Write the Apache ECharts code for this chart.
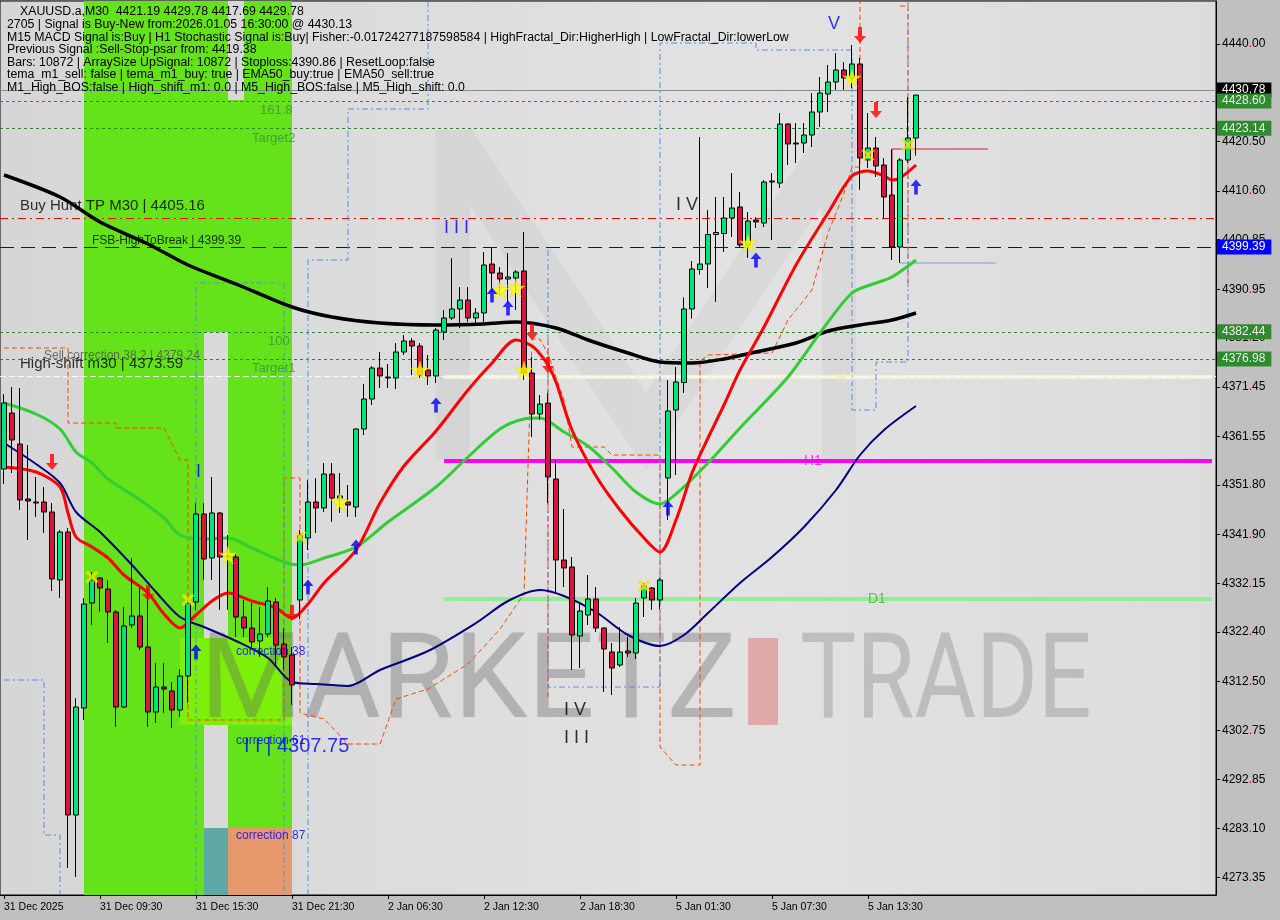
<!DOCTYPE html>
<html><head><meta charset="utf-8">
<script src="https://cdn.jsdelivr.net/npm/echarts@6/dist/echarts.min.js"></script>
<style>html,body{margin:0;padding:0;background:#c0c0c0;}#c{width:1280px;height:920px;}</style>
</head><body><div id="c"></div>
<script>
// ---------- DATA ----------
const tickLabels = ['31 Dec 2025','31 Dec 09:30','31 Dec 15:30','31 Dec 21:30','2 Jan 06:30','2 Jan 12:30','2 Jan 18:30','5 Jan 01:30','5 Jan 07:30','5 Jan 13:30'];
const yTicks = [4440.00,4430.25,4420.50,4410.60,4400.85,4390.95,4381.20,4371.45,4361.55,4351.80,4341.90,4332.15,4322.40,4312.50,4302.75,4292.85,4283.10,4273.35];
// [open, high, low, close]
const ohlc = [
[4355.0,4370.0,4352.0,4368.2],[4366.2,4371.4,4354.2,4360.8],[4360.0,4371.2,4346.8,4348.8],[4349.0,4359.8,4340.8,4348.6],
[4348.4,4353.4,4345.4,4348.2],[4348.4,4351.4,4342.2,4346.4],[4346.4,4348.2,4330.6,4333.0],[4332.8,4342.8,4329.2,4342.4],
[4342.4,4343.2,4275.2,4285.8],[4285.8,4309.2,4273.4,4307.4],[4307.2,4329.2,4304.8,4328.0],[4328.2,4334.4,4323.8,4332.8],
[4333.2,4333.4,4326.4,4331.2],[4331.0,4332.8,4320.2,4326.4],[4326.4,4326.8,4303.4,4307.4],[4307.4,4327.4,4307.2,4323.6],
[4323.8,4337.2,4323.2,4325.6],[4325.6,4331.2,4318.8,4319.4],[4319.4,4331.2,4303.4,4306.4],[4306.4,4316.2,4304.2,4311.4],
[4311.4,4316.2,4306.2,4311.0],[4310.6,4312.4,4303.2,4306.8],[4306.8,4315.0,4305.4,4313.6],[4313.6,4329.2,4308.2,4328.2],
[4328.4,4348.2,4326.8,4346.0],[4346.0,4348.2,4332.8,4337.0],[4337.2,4353.4,4332.8,4346.2],[4346.2,4346.4,4326.8,4337.4],
[4337.4,4341.8,4326.8,4337.6],[4337.4,4338.2,4321.4,4325.4],[4325.4,4328.8,4321.4,4323.2],[4323.2,4328.2,4319.4,4320.4],
[4320.6,4327.4,4317.4,4322.0],[4322.0,4331.4,4321.4,4328.6],[4328.4,4329.2,4315.4,4319.8],[4320.0,4323.2,4314.8,4317.4],
[4317.8,4319.4,4307.8,4311.8],[4328.8,4342.8,4325.0,4341.8],[4341.2,4352.8,4338.8,4348.4],[4348.4,4353.2,4342.2,4347.2],
[4347.2,4356.2,4346.4,4354.0],[4354.0,4356.2,4344.4,4349.2],[4349.2,4354.2,4346.2,4349.6],[4348.4,4351.8,4345.4,4347.8],
[4347.4,4363.2,4345.4,4363.0],[4363.0,4372.0,4361.8,4369.0],[4369.0,4375.6,4367.8,4375.2],[4375.2,4378.4,4371.2,4373.6],
[4373.4,4376.0,4371.2,4373.2],[4373.2,4380.2,4371.0,4378.4],[4378.4,4381.8,4377.8,4380.6],[4380.6,4381.2,4373.8,4379.6],
[4379.6,4380.2,4373.2,4373.8],[4374.8,4377.8,4371.8,4373.6],[4373.6,4383.2,4372.2,4382.8],[4382.4,4386.8,4380.8,4385.2],
[4385.2,4397.2,4384.8,4387.0],[4387.0,4391.4,4383.2,4388.8],[4388.8,4391.4,4384.4,4385.2],[4385.2,4387.2,4383.8,4386.2],
[4386.2,4398.4,4384.4,4395.8],[4396.0,4399.2,4390.4,4394.2],[4394.2,4395.4,4389.8,4393.0],[4393.0,4398.2,4388.2,4393.4],
[4393.2,4394.8,4386.8,4394.4],[4394.6,4402.4,4372.8,4374.2],[4374.2,4377.4,4361.4,4366.0],[4366.0,4369.8,4364.8,4368.0],
[4368.2,4370.2,4348.2,4353.4],[4353.0,4356.8,4330.2,4336.8],[4336.8,4347.0,4331.4,4335.2],[4335.4,4337.4,4314.8,4321.8],
[4321.6,4328.4,4315.2,4326.6],[4325.8,4333.8,4323.8,4329.0],[4329.0,4331.4,4322.4,4323.2],[4323.2,4323.4,4310.4,4319.0],
[4318.4,4320.2,4309.8,4315.2],[4315.8,4323.4,4315.4,4318.4],[4318.6,4321.4,4317.4,4318.2],[4318.2,4329.2,4317.0,4328.2],
[4329.2,4332.2,4325.4,4331.6],[4331.2,4331.4,4326.8,4328.8],[4328.8,4333.2,4327.0,4332.8],[4353.2,4372.8,4344.8,4366.6],
[4366.8,4375.4,4353.8,4372.4],[4372.3,4389.3,4370.2,4387.0],[4387.0,4396.6,4385.1,4395.0],[4394.9,4421.4,4393.9,4396.0],
[4396.0,4406.8,4391.2,4401.9],[4401.9,4409.4,4388.4,4402.3],[4402.1,4409.4,4398.4,4405.2],[4405.2,4414.2,4401.4,4407.2],
[4407.4,4410.4,4399.2,4399.8],[4399.8,4406.4,4397.2,4404.6],[4404.8,4405.4,4403.2,4404.4],[4404.2,4412.8,4403.4,4412.4],
[4412.4,4414.2,4400.8,4412.6],[4412.2,4426.2,4411.2,4424.0],[4424.0,4424.2,4415.8,4420.0],[4420.2,4424.2,4416.2,4420.0],
[4420.2,4424.2,4418.2,4421.8],[4421.8,4430.2,4419.4,4426.4],[4426.4,4433.4,4423.4,4430.2],[4430.0,4435.8,4426.4,4432.4],
[4432.4,4438.2,4430.8,4434.8],[4434.8,4436.4,4430.8,4433.2],[4433.2,4439.8,4431.2,4436.0],[4436.0,4437.2,4410.8,4417.2],
[4416.8,4426.2,4415.2,4419.2],[4419.2,4421.4,4413.4,4415.6],[4415.8,4417.2,4405.2,4409.4],[4409.8,4419.0,4396.8,4399.4],
[4399.4,4417.2,4396.2,4416.8],[4416.8,4429.4,4416.2,4421.2],[4421.19,4429.78,4417.69,4429.78]
];
// moving averages read at sampled bars: [barIndex, value]
const maBlack = [[0,4413.8],[7,4409.4],[12,4404.4],[18,4400.0],[23,4395.8],[29,4392.0],[36,4387.4],[41,4385.4],[47,4384.2],[54,4383.8],[60,4384.0],[64,4384.4],[69,4383.2],[73,4380.8],[78,4378.2],[82,4376.4],[86,4376.2],[90,4377.0],[94,4378.4],[99,4380.2],[103,4382.6],[107,4383.8],[111,4384.8],[114,4386.2]];
const maRed = [[0,4355.4],[4,4354.4],[7,4351.4],[8,4346.2],[9,4341.4],[11,4339.4],[13,4337.2],[15,4333.8],[18,4330.2],[20,4326.0],[22,4323.2],[24,4325.8],[26,4328.6],[28,4330.2],[31,4328.6],[34,4327.2],[36,4325.2],[38,4328.0],[40,4332.2],[44,4338.8],[47,4348.2],[50,4355.6],[54,4362.6],[58,4370.8],[61,4376.2],[64,4380.8],[66,4379.6],[67,4378.0],[68,4375.8],[69,4372.4],[71,4362.8],[74,4353.6],[77,4346.8],[80,4341.2],[82,4338.4],[84,4344.8],[86,4354.2],[88,4361.2],[90,4367.8],[92,4374.8],[95,4383.4],[99,4395.8],[103,4406.2],[106,4413.6],[108,4414.6],[110,4413.6],[111,4412.8],[112,4413.2],[114,4415.8]];
const maGreen = [[0,4368.2],[4,4366.0],[7,4363.0],[9,4358.4],[11,4356.2],[13,4353.0],[17,4348.8],[20,4345.2],[22,4341.8],[25,4341.0],[28,4341.2],[31,4339.2],[35,4336.4],[37,4335.8],[40,4337.2],[44,4339.4],[48,4344.4],[54,4351.4],[58,4357.4],[62,4363.0],[65,4365.0],[67,4365.2],[70,4362.4],[73,4359.6],[76,4355.2],[79,4350.4],[82,4348.0],[84,4350.0],[88,4356.2],[92,4363.2],[98,4373.4],[102,4382.2],[106,4390.2],[109,4392.2],[111,4393.4],[114,4396.8]];
const maNavy = [[0,4360.2],[4,4356.0],[7,4352.2],[9,4346.4],[12,4342.4],[16,4335.8],[19,4330.4],[22,4325.4],[25,4323.4],[29,4320.6],[33,4317.2],[36,4312.4],[39,4312.0],[43,4311.6],[47,4314.8],[53,4318.6],[59,4324.2],[63,4328.6],[67,4330.8],[70,4329.6],[74,4326.4],[78,4321.8],[82,4319.6],[85,4321.8],[88,4326.2],[92,4332.2],[96,4337.4],[100,4343.4],[104,4350.8],[107,4357.8],[110,4362.8],[114,4367.6]];
// stepped indicator envelopes
const orangePath1 = [[0,4379.2],[8,4379.2],[8,4364.2],[14,4364.2],[14,4363.2],[20,4363.2],[22,4356.8],[23,4356.8],[23,4304.8],[35,4304.8],[35,4353.2],[37,4353.2],[37,4306.2],[40,4305.0],[43,4300.0],[47,4300.0],[49,4309.0],[53,4311.0],[58,4316.0],[62,4323.0],[65,4330.0],[66,4381.0],[67,4381.0],[68,4378.0],[70,4368.8],[71,4359.4],[75,4359.4],[76,4357.8],[82,4357.8],[82,4299.4],[84,4295.8],[87,4295.8],[87,4376.6],[88,4377.8],[96,4378.2],[98,4384.8],[101,4390.8],[103,4402.2],[105,4410.2],[106,4415.4],[107,4415.4],[107,4448.6]];
const orangePath2 = [[112,4447.6],[113,4447.6],[113,4391.4]];
const orangePath3 = [[68,4380.8],[68,4308.8]];
const bluePath1 = [[0,4312.8],[5,4312.8],[5,4281.8],[7,4281.8],[7,4269.8]];
const bluePath2 = [[24,4269.8],[24,4392.2],[35,4392.2],[35,4269.8]];
const bluePath3 = [[38,4269.8],[38,4396.8],[43,4396.8],[43,4427.0],[53,4427.0],[53,4448.6]];
const bluePath4 = [[68,4398.8],[68,4311.4],[82,4311.4],[82,4440.2],[94,4440.2],[94,4438.8],[106,4438.8],[106,4366.8],[109,4366.8],[109,4376.4],[113,4376.4],[113,4448.6]];
const redShort = [[123,4419.0],[111,4419.0],[111,4399.4]];
const blueShort = [[112,4396.2],[124,4396.2]];
// levels
const levelH1 = 4356.6, levelD1 = 4329.0, levelH4 = 4373.4;
const priceNow = 4430.78, greenLevels = [4428.60, 4423.14, 4382.44, 4376.98];
const buyHuntTP = 4405.16, fsbHigh = 4399.39, highShift = 4373.59;
// markers [barIndex, price]
const stars = [[28,4337.8],[42,4348.4],[52,4374.8],[62,4390.8],[64,4391.2],[65,4374.8],[93,4400.2],[106,4433.2]];
const crosses = [[11,4333.4],[23,4328.8],[37,4341.4],[80,4331.6],[108,4417.8],[113,4419.8]];
const downArrows = [[6,4356.4],[18,4330.2],[36,4326.2],[66,4382.4],[68,4375.8],[107,4441.8],[109,4426.8]];
const upArrows = [[24,4318.4],[38,4331.4],[44,4339.4],[54,4367.8],[61,4389.8],[63,4387.2],[83,4347.2],[94,4396.8],[114,4411.4]];
// text annotations [text, barIndex, price, style]
const notes = [
 ['Buy Hunt TP M30 | 4405.16',2,4407.6,'big'],
 ['FSB-HighToBreak | 4399.39',11,4400.6,'small'],
 ['Sell correction 38.2 | 4379.24',5,4377.6,'grey'],
 ['High-shift m30 | 4373.59',2,4376.0,'big'],
 ['161.8',32,4426.8,'fib'],['Target2',31,4421.2,'fib'],['100',33,4380.6,'fib'],['Target1',31,4375.2,'fib'],
 ['I I I',55,4403.2,'wb'],['I V',84,4407.8,'wk'],['V',103,4444.0,'wb'],['I V',70,4306.8,'wk'],['I I I',70,4301.2,'wk'],
 ['I',24,4354.4,'wb'],['I I | 4307.75',30,4299.6,'wb2'],
 ['correction 38',29,4318.4,'corr'],['correction 61',29,4300.6,'corr'],['correction 87',29,4281.6,'corr'],
 ['H1',100,4356.6,'h1'],['D1',108,4329.0,'d1'],['H4',104,4373.2,'h4']
];
const infoLines = [
 'XAUUSD.a,M30  4421.19 4429.78 4417.69 4429.78',
 '2705 | Signal is Buy-New from:2026.01.05 16:30:00 @ 4430.13',
 'M15 MACD Signal is:Buy | H1 Stochastic Signal is:Buy| Fisher:-0.01724277187598584 | HighFractal_Dir:HigherHigh | LowFractal_Dir:lowerLow',
 'Previous Signal :Sell-Stop-psar from: 4419.38',
 'Bars: 10872 | ArraySize UpSignal: 10872 | Stoploss:4390.86 | ResetLoop:false',
 'tema_m1_sell: false | tema_m1_buy: true | EMA50_buy:true | EMA50_sell:true',
 'M1_High_BOS:false | High_shift_m1: 0.0 | M5_High_BOS:false | M5_High_shift: 0.0'
];

// ---------- CHART ----------
const NCAT = 152, YMIN = 4269.8, YMAX = 4448.6;
const cats = Array.from({length: NCAT}, (_, i) => String(i));
const FONT = 'Liberation Sans, Arial, sans-serif';
const chart = echarts.init(document.getElementById('c'), null, {renderer: 'canvas'});

const noteStyles = {
  big: {color:'#000', fontSize:15}, small: {color:'#000', fontSize:12}, grey: {color:'#505050', fontSize:12},
  fib: {color:'#3c8f3c', fontSize:13}, wb: {color:'#0000ff', fontSize:18}, wk: {color:'#000', fontSize:18},
  wb2: {color:'#0000ff', fontSize:20}, corr: {color:'#0000ff', fontSize:12},
  h1: {color:'#ff00ff', fontSize:14}, d1: {color:'#3cb043', fontSize:14}, h4: {color:'#efefb0', fontSize:14}
};

const ticksShown = idx => idx % 12 === 0 && idx / 12 < tickLabels.length;

function pathSeries(data, color, type, width) {
  return {type:'line', data, showSymbol:false, silent:true, z:6, animation:false,
    lineStyle:{color, width: width || 1, type}};
}
function boxLabel(text, bg, fg) {
  return {show:true, position:'end', formatter:text, backgroundColor:bg, color:fg, distance:1,
    padding:[2,6,1,5], fontSize:12, fontFamily:FONT};
}

const markLineData = [
  {yAxis: priceNow, lineStyle:{color:'#7f8c9a', type:'solid', width:1}, label: boxLabel(priceNow.toFixed(2), '#000', '#fff')},
  ...greenLevels.map(v => ({yAxis: v, lineStyle:{color:'#2a8a2a', type:[3,3], width:1}, label: boxLabel(v.toFixed(2), '#2e8b2e', '#e8f0e8')})),
  {yAxis: buyHuntTP, lineStyle:{color:'#ff0000', type:[8,4,2,4], width:1}, label:{show:false}},
  {yAxis: fsbHigh, lineStyle:{color:'#0000dd', type:[14,7], width:1}, label: boxLabel(fsbHigh.toFixed(2), '#0000ff', '#fff')},
  {yAxis: highShift, lineStyle:{color:'#ffffff', type:[6,3], width:1}, label:{show:false}}
];

const option = {
  animation: false,
  backgroundColor: '#c0c0c0',
  grid: {left:0, right:64, top:1, bottom:25, show:true, borderColor:'#000', borderWidth:1,
    backgroundColor: new echarts.graphic.LinearGradient(0,0,1,0,[{offset:0,color:'#d6d6d6'},{offset:0.6,color:'#e2e2e2'},{offset:1,color:'#dcdcdc'}])},
  xAxis: {type:'category', data:cats, boundaryGap:true,
    axisLine:{show:true, lineStyle:{color:'#000'}},
    axisTick:{show:true, interval:ticksShown, alignWithLabel:true, length:4, lineStyle:{color:'#000'}},
    axisLabel:{interval:ticksShown, formatter:(v, idx) => tickLabels[idx/12] || '', align:'left', margin:7,
      color:'#000', fontSize:10.5, fontFamily:FONT},
    splitLine:{show:false}},
  yAxis: {type:'value', position:'right', min:YMIN, max:YMAX, splitLine:{show:false},
    axisLine:{show:true, lineStyle:{color:'#000'}},
    axisTick:{show:true, customValues:yTicks, length:4, lineStyle:{color:'#000'}},
    axisLabel:{customValues:yTicks, margin:6, fontSize:12, fontFamily:FONT, color:'#000',
      formatter: v => { const s = Number(v).toFixed(2).split('.'); return '{a|' + s[0] + '}{d|.}{a|' + s[1] + '}'; },
      rich:{a:{color:'#000', fontSize:12, fontFamily:FONT}, d:{color:'#d00000', fontSize:12, fontFamily:FONT}}}},
  graphic: [
    // watermark
    {type:'polygon', z:2, silent:true, shape:{points:[[436,130],[472,130],[646,392],[820,130],[856,130],[856,460],[822,460],[822,205],[646,470],[470,205],[470,460],[436,460]]},
      style:{fill:'rgba(0,0,0,0.035)'}},
    {type:'text', z:2, silent:true, left:200, top:628, style:{text:'MARKETZ', fontSize:118, fontWeight:'normal', fontFamily:'Roboto, Lato, sans-serif', fill:'rgba(100,100,100,0.36)'}},
    {type:'rect', z:2, silent:true, shape:{x:748, y:638, width:30, height:87}, style:{fill:'rgba(215,80,80,0.38)'}},
    {type:'text', z:2, silent:true, left:800, top:628, scaleX:0.8, originX:800, style:{text:'TRADE', fontSize:118, fontWeight:'normal', fontFamily:'Roboto, Lato, sans-serif', fill:'rgba(130,130,130,0.36)'}},
    // info text
    ...infoLines.map((t, k) => ({type:'text', z:50, silent:true, left: k === 0 ? 20 : 7, top: 6 + k*12.6,
      style:{text:t, fontSize:12.3, fontFamily:FONT, fill:'#000'}}))
  ],
  series: [
    {name:'zones', type:'line', data:[], z:1, silent:true,
      markArea:{silent:true, data:[
        [{xAxis:10, yAxis:YMAX, itemStyle:{color:'#64e31b', opacity:1}}, {xAxis:36, yAxis:YMIN}],
        [{xAxis:28, yAxis:YMAX, itemStyle:{color:'#d8d8d8', opacity:1}}, {xAxis:30, yAxis:4428.8}],
        [{xAxis:25, yAxis:4382.4, itemStyle:{color:'#dadada', opacity:1}}, {xAxis:28, yAxis:4283.2}],
        [{xAxis:25, yAxis:4283.2, itemStyle:{color:'#5ea8a8', opacity:1}}, {xAxis:28, yAxis:YMIN}],
        [{xAxis:28, yAxis:4283.2, itemStyle:{color:'#e6996a', opacity:1}}, {xAxis:36, yAxis:YMIN}],
        [{xAxis:22, yAxis:4321.2, itemStyle:{color:'#7cf00a', opacity:1}}, {xAxis:36, yAxis:4303.8}]
      ]}},
    {name:'levels', type:'line', data:[], z:20, silent:true,
      markLine:{silent:true, symbol:'none', animation:false, data: markLineData}},
    {type:'line', data:[[55,levelH1],[NCAT-1,levelH1]], showSymbol:false, silent:true, z:4, lineStyle:{color:'#ff00ff', width:4}},
    {type:'line', data:[[55,levelD1],[NCAT-1,levelD1]], showSymbol:false, silent:true, z:4, lineStyle:{color:'#90f090', width:4}},
    {type:'line', data:[[55,levelH4],[NCAT-1,levelH4]], showSymbol:false, silent:true, z:4, lineStyle:{color:'#f3f1d6', width:4}},
    pathSeries(orangePath1, '#ff4500', [5,3]),
    pathSeries(orangePath2, '#ff4500', [5,3]),
    pathSeries(orangePath3, '#ff4500', [5,3]),
    pathSeries(bluePath1, '#4d8ff0', [6,3,2,3]),
    pathSeries(bluePath2, '#4d8ff0', [6,3,2,3]),
    pathSeries(bluePath3, '#4d8ff0', [6,3,2,3]),
    pathSeries(bluePath4, '#4d8ff0', [6,3,2,3]),
    pathSeries(redShort, '#dc143c', 'solid'),
    pathSeries(blueShort, '#6a9ef0', 'solid'),
    {type:'line', data:maNavy, smooth:0.3, showSymbol:false, silent:true, z:7, lineStyle:{color:'#000080', width:2}},
    {type:'line', data:maBlack, smooth:0.3, showSymbol:false, silent:true, z:7, lineStyle:{color:'#000000', width:3.5}},
    {type:'line', data:maGreen, smooth:0.3, showSymbol:false, silent:true, z:7, lineStyle:{color:'#32cd32', width:3}},
    {type:'line', data:maRed, smooth:0.3, showSymbol:false, silent:true, z:7, lineStyle:{color:'#ff0000', width:3}},
    {name:'XAUUSD', type:'candlestick', z:10, barWidth:5, silent:true,
      data: ohlc.map(r => [r[0], r[3], r[2], r[1]]),
      itemStyle:{color:'#00e676', color0:'#dc143c', borderColor:'#000', borderColor0:'#000', borderWidth:1}},
    {type:'scatter', z:12, silent:true, data:stars, symbol:'path://M50,0 L61,35 L98,35 L68,57 L79,91 L50,70 L21,91 L32,57 L2,35 L39,35 Z',
      symbolSize:18, itemStyle:{color:'#ffff00', borderColor:'#e8d000', borderWidth:0.5}},
    {type:'scatter', z:12, silent:true, data:crosses, symbol:'path://M0,2 L2,0 L6,4 L10,0 L12,2 L8,6 L12,10 L10,12 L6,8 L2,12 L0,10 L4,6 Z',
      symbolSize:13, itemStyle:{color:'#f5e600'}},
    {type:'scatter', z:12, silent:true, data:downArrows, symbol:'path://M4,0 L8,0 L8,9 L12,9 L6,16 L0,9 L4,9 Z',
      symbolSize:[12,16], itemStyle:{color:'#ff0000'}},
    {type:'scatter', z:12, silent:true, data:upArrows, symbol:'path://M6,0 L12,7 L8,7 L8,16 L4,16 L4,7 L0,7 Z',
      symbolSize:[11,15], itemStyle:{color:'#0000ff'}},
    {type:'scatter', z:13, silent:true, symbolSize:0,
      data: notes.map(n => ({value:[n[1], n[2]], name:n[0],
        label:{show:true, position:'right', distance:0, formatter:'{b}', fontFamily:FONT,
          color:noteStyles[n[3]].color, fontSize:noteStyles[n[3]].fontSize}}))}
  ]
};
chart.setOption(option);
</script></body></html>
